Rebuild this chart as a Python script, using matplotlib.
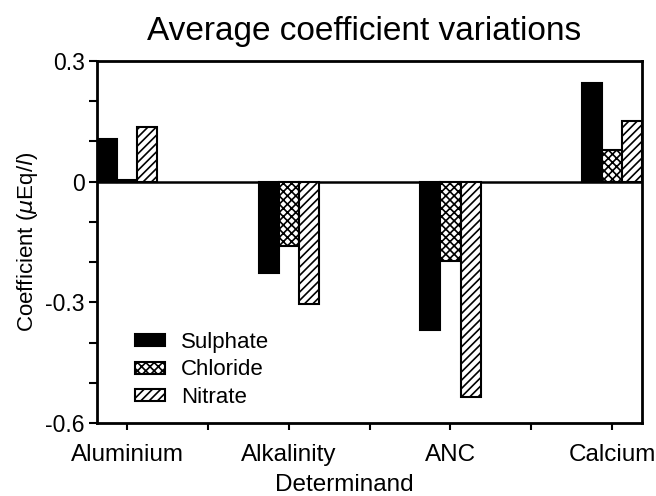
import matplotlib
matplotlib.use("Agg")
import matplotlib.pyplot as plt
import numpy as np

plt.rcParams['font.family'] = ['Liberation Sans', 'DejaVu Sans']
plt.rcParams['hatch.linewidth'] = 1.2

# ===== Datos =====
determinands = ["Aluminium", "Alkalinity", "ANC", "Calcium"]
sulphate = [0.106, -0.227, -0.369, 0.246]
chloride = [0.003, -0.159, -0.198, 0.079]
nitrate = [0.135, -0.303, -0.534, 0.152]

series = ["Sulphate", "Chloride", "Nitrate"]
y_ticks = [0.3, 0, -0.3, -0.6]
y_tick_labels = ["0.3", "0", "-0.3", "-0.6"]

# ===== Figura =====
fig = plt.figure(figsize=(6.56, 4.96), dpi=100)
ax = fig.add_axes([0.148, 0.147, 0.831, 0.730])

x = np.arange(len(determinands))
w = 0.124

estilos = [
    dict(color="black", edgecolor="black"),
    dict(color="white", edgecolor="black", hatch="xxxx"),
    dict(color="white", edgecolor="black", hatch="////"),
]

for i, (vals, name, st) in enumerate(zip([sulphate, chloride, nitrate], series, estilos)):
    ax.bar(x + (i - 1) * w, vals, w, label=name, linewidth=1.5, **st)

ax.axhline(0, color="black", linewidth=1.8, zorder=0)

ax.set_xlim(-0.186, 3.186)
ax.set_ylim(-0.6, 0.3)

ax.set_yticks(y_ticks)
ax.set_yticklabels(y_tick_labels)
ax.set_yticks(np.arange(-0.6, 0.31, 0.1), minor=True)

ax.set_xticks(x)
ax.set_xticklabels(determinands)
ax.set_xticks(x[:-1] + 0.5, minor=True)

ax.tick_params(axis="both", which="both", direction="out", width=1.5)
ax.tick_params(axis="y", which="both", length=6, pad=3, labelsize=16.5)
ax.tick_params(axis="x", which="both", length=5, pad=10, labelsize=17.5)

for s in ax.spines.values():
    s.set_linewidth(2)

ax.set_xlabel("Determinand", fontsize=17.5)
ax.xaxis.set_label_coords(0.453, -0.14)
ax.set_ylabel(r"Coefficient ($\mu$Eq/$l$)", fontsize=16)
ax.yaxis.set_label_coords(-0.105, 0.5)
ax.set_title("Average coefficient variations", fontsize=24, pad=15, x=0.49)

ax.legend(loc="lower left", bbox_to_anchor=(0.032, -0.014), frameon=False,
          fontsize=16, handlelength=1.35, handleheight=0.45,
          labelspacing=0.3, handletextpad=0.75)

fig.savefig("out.png", dpi=100)
